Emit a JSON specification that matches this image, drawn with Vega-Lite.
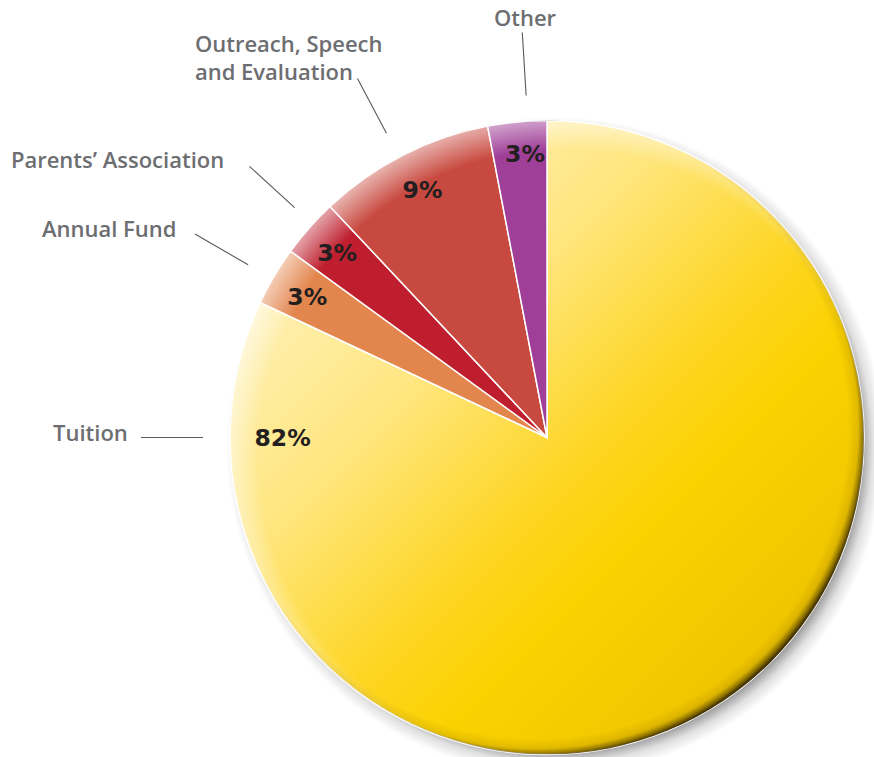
{
  "$schema": "https://vega.github.io/schema/vega-lite/v6.json",
  "width": 654,
  "height": 639,
  "autosize": {"type": "none"},
  "padding": {"left": 220, "top": 118, "right": 0, "bottom": 0},
  "background": "white",
  "view": {"stroke": null},
  "datasets": {
    "slices": [
      {"category": "Tuition", "value": 82, "rank": 1},
      {"category": "Annual Fund", "value": 3, "rank": 2},
      {"category": "Parents’ Association", "value": 3, "rank": 3},
      {"category": "Outreach, Speech and Evaluation", "value": 9, "rank": 4},
      {"category": "Other", "value": 3, "rank": 5}
    ],
    "pctLabels": [
      {"category": "Tuition", "pct": "82%", "theta": 75.06, "r": 0.834},
      {"category": "Annual Fund", "pct": "3%", "theta": 83.48, "r": 0.878},
      {"category": "Parents’ Association", "pct": "3%", "theta": 86.53, "r": 0.884},
      {"category": "Outreach, Speech and Evaluation", "pct": "9%", "theta": 92.6, "r": 0.876},
      {"category": "Other", "pct": "3%", "theta": 98.77, "r": 0.899}
    ],
    "nameLabels": [
      {"category": "Tuition", "label": "Tuition", "theta": 75.13, "r": 1.5584},
      {"category": "Annual Fund", "label": "Annual Fund", "theta": 81.24, "r": 1.724},
      {"category": "Parents’ Association", "label": "Parents’ Association", "theta": 82.61, "r": 1.9048},
      {"category": "Outreach, Speech and Evaluation", "label": "Outreach, Speech\nand Evaluation", "theta": 88.39, "r": 1.6666},
      {"category": "Other", "label": "Other", "theta": 98.0, "r": 1.3354}
    ],
    "leaders": [
      {"category": "Tuition", "theta": 75.0, "r1": 1.0852, "r2": 1.2808},
      {"category": "Annual Fund", "theta": 83.34, "r1": 1.089, "r2": 1.2826},
      {"category": "Parents’ Association", "theta": 86.76, "r1": 1.077, "r2": 1.27},
      {"category": "Outreach, Speech and Evaluation", "theta": 92.27, "r1": 1.085, "r2": 1.2807},
      {"category": "Other", "theta": 99.03, "r1": 1.0807, "r2": 1.28}
    ]
  },
  "layer": [
    {
      "data": {"name": "slices"},
      "transform": [{"filter": "datum.rank == 1"}],
      "mark": {
        "type": "arc", "theta": 0, "theta2": 6.2832, "radius": 341,
        "fill": {
          "gradient": "radial",
          "x1": 0.51245, "y1": 0.51245, "r1": 0.4472,
          "x2": 0.51245, "y2": 0.51245, "r2": 0.4824,
          "stops": [
            {"offset": 0, "color": "rgba(0,0,0,0.4)"},
            {"offset": 0.5, "color": "rgba(0,0,0,0.12)"},
            {"offset": 1, "color": "rgba(0,0,0,0)"}
          ]
        }
      },
      "encoding": {}
    },
    {
      "data": {"name": "slices"},
      "mark": {"type": "arc", "radius": 317, "stroke": "white", "strokeWidth": 1.5},
      "encoding": {
        "theta": {"field": "value", "type": "quantitative", "stack": true, "scale": {"domain": [0, 100]}},
        "order": {"field": "rank", "type": "quantitative"},
        "fill": {
          "condition": {
            "test": "datum.category === 'Tuition'",
            "value": {
              "gradient": "linear", "x1": 0, "y1": 0, "x2": 1, "y2": 1,
              "stops": [
                {"offset": 0, "color": "#fff6d0"},
                {"offset": 0.2, "color": "#ffeeaa"},
                {"offset": 0.35, "color": "#ffe680"},
                {"offset": 0.55, "color": "#fdd520"},
                {"offset": 0.65, "color": "#fbd200"},
                {"offset": 0.85, "color": "#efc400"},
                {"offset": 1, "color": "#d9aa00"}
              ]
            }
          },
          "field": "category",
          "type": "nominal",
          "legend": null,
          "scale": {
            "domain": ["Tuition", "Annual Fund", "Parents’ Association", "Outreach, Speech and Evaluation", "Other"],
            "range": ["#fcd300", "#e3864e", "#be1e2d", "#c8493f", "#9f3f97"]
          }
        }
      }
    },
    {
      "data": {"name": "slices"},
      "transform": [{"filter": "datum.rank == 1"}],
      "mark": {
        "type": "arc", "theta": 0, "theta2": 6.2832, "radius": 317,
        "fill": {
          "gradient": "radial",
          "x1": 0.5268, "y1": 0.5268, "r1": 0.4811,
          "x2": 0.5268, "y2": 0.5268, "r2": 0.5379,
          "stops": [
            {"offset": 0, "color": "rgba(255,255,255,0)"},
            {"offset": 1, "color": "rgba(255,255,255,0.6)"}
          ]
        }
      },
      "encoding": {}
    },
    {
      "data": {"name": "slices"},
      "transform": [{"filter": "datum.rank == 1"}],
      "mark": {
        "type": "arc", "theta": 0, "theta2": 6.2832, "radius": 317,
        "fill": {
          "gradient": "radial",
          "x1": 0.4844, "y1": 0.4844, "r1": 0.4905,
          "x2": 0.4844, "y2": 0.4844, "r2": 0.5221,
          "stops": [
            {"offset": 0, "color": "rgba(70,52,0,0)"},
            {"offset": 0.5, "color": "rgba(70,52,0,0.12)"},
            {"offset": 0.75, "color": "rgba(65,48,0,0.55)"},
            {"offset": 0.9, "color": "rgba(60,45,0,0.9)"},
            {"offset": 1, "color": "rgba(55,40,0,1)"}
          ]
        }
      },
      "encoding": {}
    },
    {
      "data": {"name": "pctLabels"},
      "mark": {"type": "text", "font": "DejaVu Sans", "fontWeight": "bold", "fontSize": 23.5, "color": "#231f20", "align": "center", "baseline": "middle", "dy": 2},
      "encoding": {
        "theta": {"field": "theta", "type": "quantitative", "stack": null, "scale": {"domain": [0, 100]}},
        "radius": {"field": "r", "type": "quantitative", "scale": {"type": "linear", "domain": [0, 2], "range": [0, 634], "zero": true}},
        "text": {"field": "pct", "type": "nominal"}
      }
    },
    {
      "data": {"name": "leaders"},
      "mark": {"type": "arc", "fill": null, "stroke": "#58595b", "strokeWidth": 1.1},
      "encoding": {
        "theta": {"field": "theta", "type": "quantitative", "stack": null, "scale": {"domain": [0, 100]}},
        "theta2": {"field": "theta"},
        "radius": {"field": "r2", "type": "quantitative", "scale": {"type": "linear", "domain": [0, 2], "range": [0, 634], "zero": true}},
        "radius2": {"field": "r1"}
      }
    },
    {
      "data": {"name": "nameLabels"},
      "mark": {"type": "text", "font": "Open Sans", "fontWeight": 600, "fontSize": 22, "color": "#6d6e71", "align": "left", "baseline": "middle", "lineBreak": "\n", "lineHeight": 28, "dy": 1},
      "encoding": {
        "theta": {"field": "theta", "type": "quantitative", "stack": null, "scale": {"domain": [0, 100]}},
        "radius": {"field": "r", "type": "quantitative", "scale": {"type": "linear", "domain": [0, 2], "range": [0, 634], "zero": true}},
        "text": {"field": "label", "type": "nominal"}
      }
    }
  ]
}
